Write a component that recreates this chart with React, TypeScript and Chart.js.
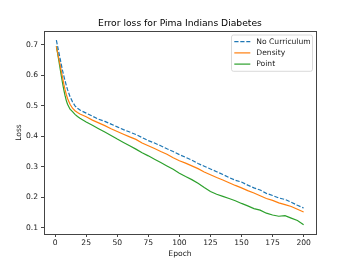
import React, { useEffect, useRef } from "react";
import { Chart, registerables } from "chart.js";

Chart.register(...registerables);

const title = "Error loss for Pima Indians Diabetes";
const xLabel = "Epoch";
const yLabel = "Loss";
const seriesNames = ["No Curriculum", "Density", "Point"];
const seriesColors = ["#1f77b4", "#ff7f0e", "#2ca02c"];

const xTicks = [0, 25, 50, 75, 100, 125, 150, 175, 200];
const yTicks = [0.1, 0.2, 0.3, 0.4, 0.5, 0.6, 0.7];

const epochs = [
  1, 2, 3, 4, 5, 6, 7, 8, 9, 10, 12, 14, 16, 18, 20, 25, 30, 35, 40, 45, 50, 55, 60, 65, 70, 75,
  80, 85, 90, 95, 100, 105, 110, 115, 120, 125, 130, 135, 140, 145, 150, 155, 160, 165, 170, 175,
  180, 185, 190, 195, 200,
];

const noCurriculum = [
  0.715, 0.695, 0.675, 0.655, 0.635, 0.615, 0.598, 0.582, 0.567, 0.553, 0.53, 0.513, 0.5, 0.492,
  0.486, 0.476, 0.466, 0.456, 0.449, 0.44, 0.431, 0.422, 0.414, 0.406, 0.396, 0.386, 0.378, 0.369,
  0.359, 0.35, 0.34, 0.331, 0.322, 0.311, 0.302, 0.293, 0.284, 0.275, 0.265, 0.256, 0.25, 0.24,
  0.231, 0.224, 0.213, 0.206, 0.198, 0.193, 0.184, 0.174, 0.165,
];

const density = [
  0.695, 0.675, 0.655, 0.635, 0.613, 0.592, 0.571, 0.553, 0.537, 0.524, 0.505, 0.492, 0.484, 0.478,
  0.473, 0.464, 0.453, 0.444, 0.435, 0.425, 0.416, 0.407, 0.398, 0.39, 0.378, 0.369, 0.36, 0.35,
  0.341, 0.33, 0.32, 0.312, 0.303, 0.294, 0.283, 0.274, 0.265, 0.257, 0.248, 0.239, 0.231, 0.222,
  0.214, 0.205, 0.196, 0.19, 0.182, 0.176, 0.17, 0.161, 0.152,
];

const point = [
  0.695, 0.672, 0.648, 0.623, 0.598, 0.574, 0.552, 0.533, 0.517, 0.505, 0.489, 0.481, 0.472, 0.465,
  0.459, 0.447, 0.436, 0.425, 0.414, 0.403, 0.391, 0.38, 0.369, 0.358, 0.346, 0.336, 0.325, 0.314,
  0.303, 0.292, 0.279, 0.268, 0.258, 0.246, 0.232, 0.219, 0.21, 0.203, 0.196, 0.189, 0.18, 0.172,
  0.163, 0.158, 0.148, 0.142, 0.138, 0.14, 0.132, 0.124, 0.11,
];

const FONT = "DejaVu Sans";
const TEXT = "#1a1a1a";
const SPINE = "#444";

const framePlugin = {
  id: "frameAndLegend",
  afterDraw(chart: any) {
    const { ctx, chartArea } = chart;
    const { left, top, right, bottom } = chartArea;
    ctx.save();
    // spines
    ctx.strokeStyle = SPINE;
    ctx.lineWidth = 1;
    ctx.strokeRect(Math.round(left) + 0.5, Math.round(top) + 0.5, Math.round(right - left), Math.round(bottom - top));
    // legend
    const lx1 = right - 84.5;
    const lx2 = right - 3.5;
    const ly1 = top + 4;
    const ly2 = top + 40.3;
    const r = 2;
    ctx.beginPath();
    ctx.moveTo(lx1 + r, ly1);
    ctx.lineTo(lx2 - r, ly1);
    ctx.arcTo(lx2, ly1, lx2, ly1 + r, r);
    ctx.lineTo(lx2, ly2 - r);
    ctx.arcTo(lx2, ly2, lx2 - r, ly2, r);
    ctx.lineTo(lx1 + r, ly2);
    ctx.arcTo(lx1, ly2, lx1, ly2 - r, r);
    ctx.lineTo(lx1, ly1 + r);
    ctx.arcTo(lx1, ly1, lx1 + r, ly1, r);
    ctx.closePath();
    ctx.fillStyle = "rgba(255,255,255,0.8)";
    ctx.fill();
    ctx.strokeStyle = "#d0d0d0";
    ctx.lineWidth = 0.8;
    ctx.stroke();
    ctx.font = `7.6px "${FONT}"`;
    ctx.textBaseline = "middle";
    ctx.textAlign = "left";
    chart.data.datasets.forEach((ds: any, i: number) => {
      const y = ly1 + 6.7 + i * 11.2;
      ctx.beginPath();
      ctx.strokeStyle = ds.borderColor;
      ctx.lineWidth = ds.borderWidth;
      ctx.setLineDash(ds.borderDash || []);
      ctx.moveTo(lx1 + 2.8, y);
      ctx.lineTo(lx1 + 18.8, y);
      ctx.stroke();
      ctx.setLineDash([]);
      ctx.fillStyle = TEXT;
      ctx.fillText(ds.label, lx1 + 24.8, y);
    });
    ctx.restore();
  },
};

export default function App() {
  const ref = useRef<HTMLCanvasElement | null>(null);
  useEffect(() => {
    if (!ref.current) return;
    const seriesValues = [noCurriculum, density, point];
    const chart = new Chart(ref.current, {
      type: "line",
      data: {
        datasets: seriesValues.map((vals, i) => ({
          label: seriesNames[i],
          data: epochs.map((e, j) => ({ x: e, y: vals[j] })),
          borderColor: seriesColors[i],
          backgroundColor: seriesColors[i],
          borderWidth: 1.2,
          borderDash: i === 0 ? [4.2, 1.8] : [],
          pointRadius: 0,
          tension: 0,
          fill: false,
        })),
      },
      options: {
        responsive: false,
        animation: false,
        layout: { padding: { left: 0, right: 36, top: 0, bottom: 0 } },
        plugins: {
          legend: { display: false },
          tooltip: { enabled: false },
          title: {
            display: true,
            text: title,
            fullSize: false,
            color: "#000",
            font: { family: FONT, size: 9.2, weight: "normal" },
            padding: { top: 18.46, bottom: 1.5 },
          },
        },
        scales: {
          x: {
            type: "linear",
            min: -8.95,
            max: 209.95,
            afterBuildTicks: (s: any) => {
              s.ticks = xTicks.map((v) => ({ value: v }));
            },
            afterFit: (s: any) => {
              s.height = 30;
            },
            ticks: {
              autoSkip: false,
              maxRotation: 0,
              padding: 1.4,
              color: TEXT,
              font: { family: FONT, size: 7.6 },
              callback: (v: any) => String(v),
            },
            grid: {
              drawOnChartArea: false,
              drawTicks: true,
              tickLength: 3,
              color: SPINE,
              lineWidth: 1,
            },
            border: { display: false },
            title: {
              display: true,
              text: xLabel,
              color: TEXT,
              font: { family: FONT, size: 7.6 },
              padding: { top: 0, bottom: 5.4 },
            },
          },
          y: {
            type: "linear",
            min: 0.0798,
            max: 0.7452,
            afterBuildTicks: (s: any) => {
              s.ticks = yTicks.map((v) => ({ value: v }));
            },
            afterFit: (s: any) => {
              s.width = 44;
            },
            ticks: {
              autoSkip: false,
              padding: 3,
              color: TEXT,
              font: { family: FONT, size: 7.6 },
              callback: (v: any) => Number(v).toFixed(1),
            },
            grid: {
              drawOnChartArea: false,
              drawTicks: true,
              tickLength: 3,
              color: SPINE,
              lineWidth: 1,
            },
            border: { display: false },
            title: {
              display: true,
              text: yLabel,
              color: TEXT,
              font: { family: FONT, size: 7.6 },
              padding: { top: 14.7, bottom: 0 },
            },
          },
        },
      },
      plugins: [framePlugin],
    });
    return () => chart.destroy();
  }, []);
  return (
    <div style={{ position: "absolute", left: 0, top: 0, width: 352, height: 264, background: "#fff" }}>
      <canvas ref={ref} width={352} height={264} style={{ display: "block" }} />
    </div>
  );
}
